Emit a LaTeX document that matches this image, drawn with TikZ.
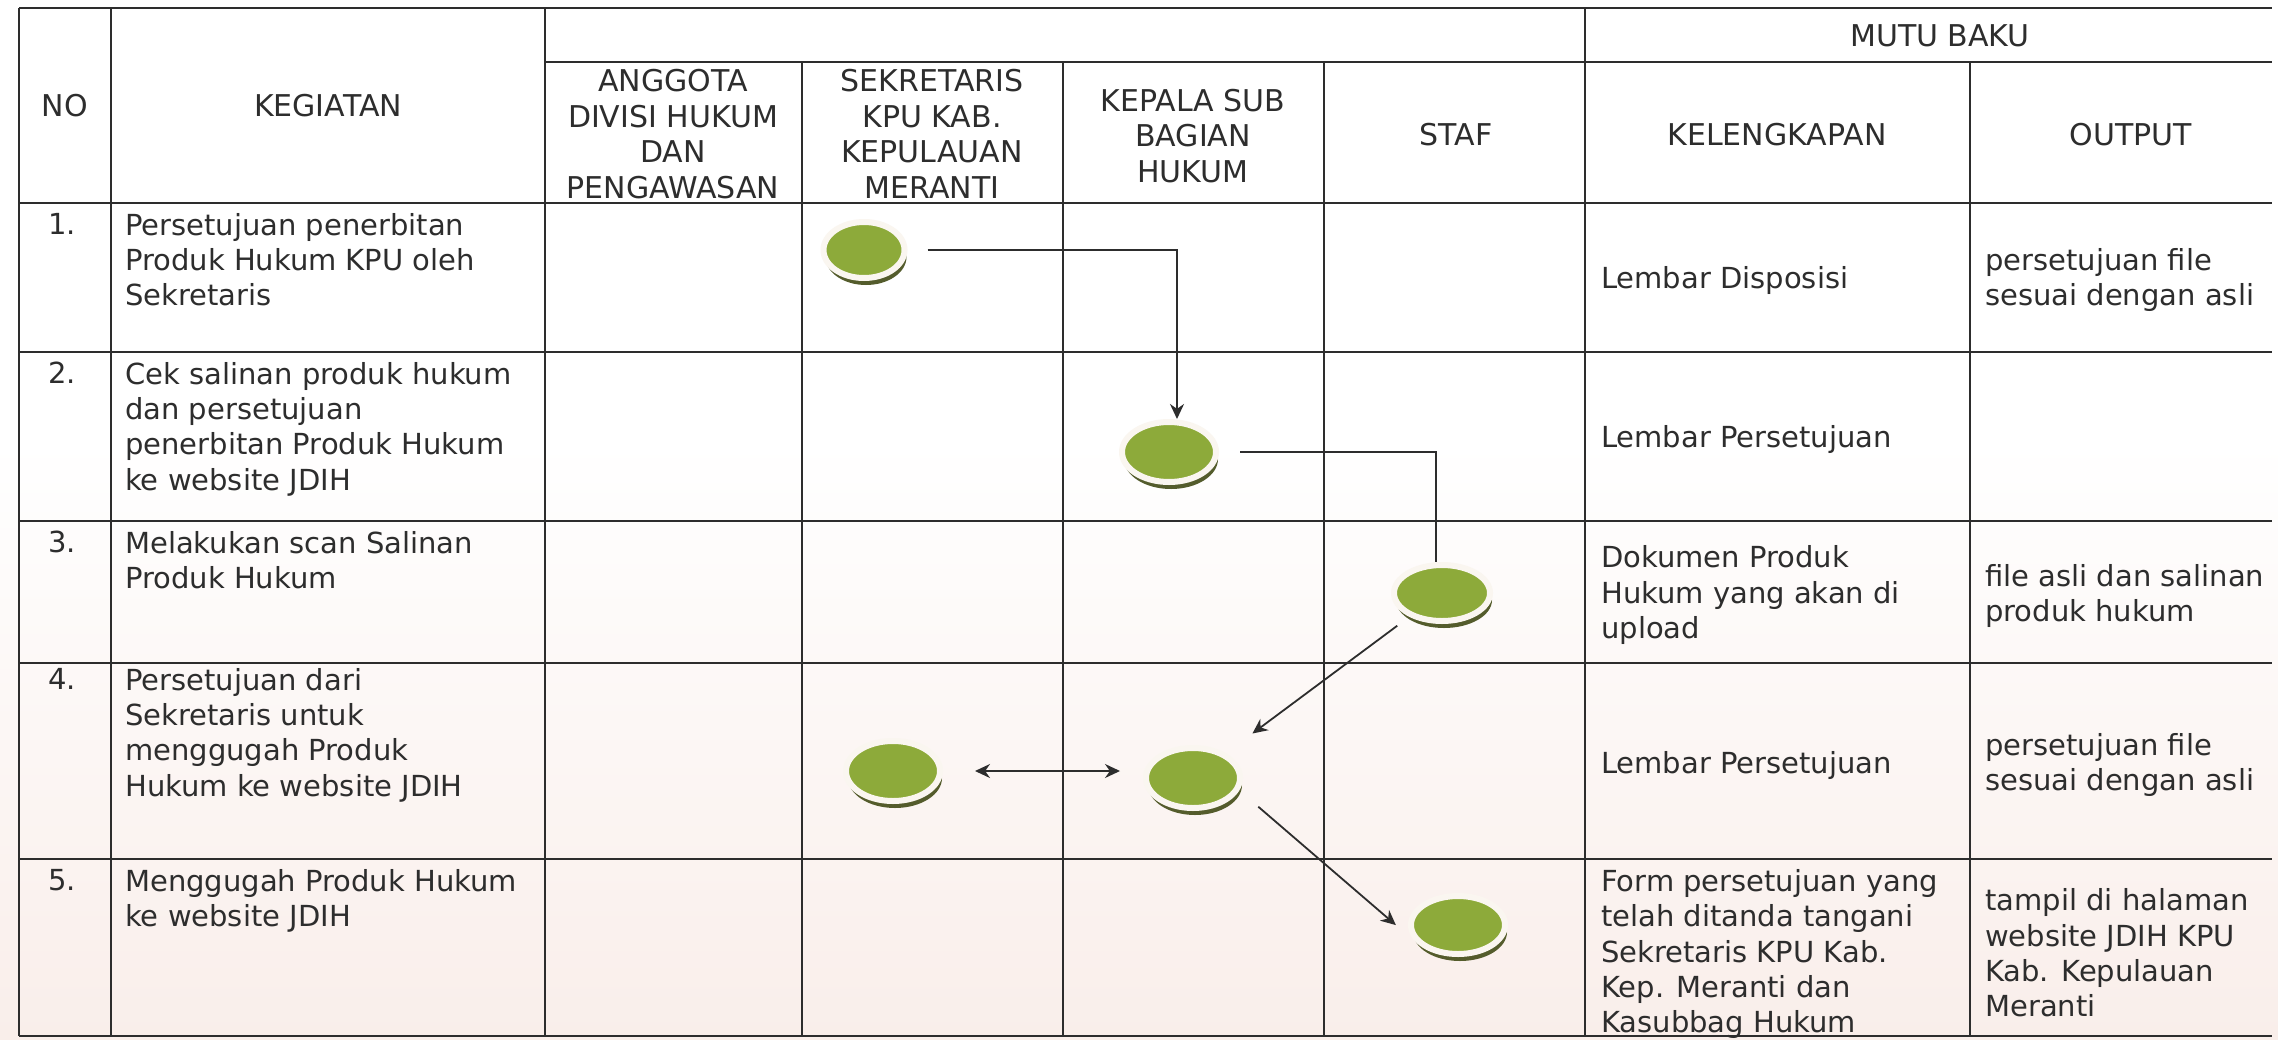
\documentclass[tikz,border=0pt]{standalone}
\usepackage{fontspec}
\setmainfont{DejaVu Sans}
\usetikzlibrary{shapes.geometric,arrows.meta,shadows,positioning}

\definecolor{blobgreen}{RGB}{141,170,58}
\definecolor{blobshade}{RGB}{84,92,44}
\definecolor{blobring}{RGB}{250,246,240}
\definecolor{ink}{RGB}{45,45,45}
\definecolor{paperpink}{RGB}{249,238,234}

\begin{document}
\begin{tikzpicture}
[x=1pt,y=-1pt,>={Stealth[length=15pt,width=14pt]},
 grid/.style = {draw=ink, line width=1.4pt},
 head/.style = {text=ink, align=center, inner sep=0pt, font=\fontsize{30}{35.5}\selectfont},
 body/.style = {text=ink, align=left, inner sep=0pt, font=\fontsize{29}{35.3}\selectfont},
 blob/.style = {ellipse, fill=blobgreen, draw=blobring, line width=6pt, minimum width=94pt, minimum height=60pt, inner sep=0pt,
                drop shadow={shadow xshift=2pt, shadow yshift=-7pt, fill=blobshade, opacity=1}},
 flow/.style = {draw=ink, line width=1.8pt},]
\useasboundingbox (0,0) rectangle (2278,1039);
\fill[white] (0,0) rectangle (2278,440);
\shade[top color=white, bottom color=paperpink] (0,440) rectangle (2278,1039);

% table lines
\draw[grid] (19,8) -- (2272,8);
\draw[grid] (545,62) -- (2272,62);
\draw[grid] (19,203) -- (2272,203);
\draw[grid] (19,352) -- (2272,352);
\draw[grid] (19,521) -- (2272,521);
\draw[grid] (19,663) -- (2272,663);
\draw[grid] (19,859) -- (2272,859);
\draw[grid] (19,1036) -- (2272,1036);
\draw[grid] (19,8) -- (19,1036);
\draw[grid] (111,8) -- (111,1036);
\draw[grid] (545,8) -- (545,1036);
\draw[grid] (802,62) -- (802,1036);
\draw[grid] (1063,62) -- (1063,1036);
\draw[grid] (1324,62) -- (1324,1036);
\draw[grid] (1585,8) -- (1585,1036);
\draw[grid] (1970,62) -- (1970,1036);

% header
\node (no) at (65,106) [head] {NO};
\node (kegiatan) at (328,106) [head] {KEGIATAN};
\node (mutu) at (1940,36) [head] {MUTU BAKU};
\node (anggota) at (673,134) [head] {ANGGOTA\\DIVISI HUKUM\\DAN\\PENGAWASAN};
\node (sekretaris) at (932,134) [head] {SEKRETARIS\\KPU KAB.\\KEPULAUAN\\MERANTI};
\node (kasubbag) at (1193,136) [head] {KEPALA SUB\\BAGIAN\\HUKUM};
\node (staf) at (1456,135) [head] {STAF};
\node (kelengkapan) at (1777,135) [head] {KELENGKAPAN};
\node (output) at (2131,135) [head] {OUTPUT};

% rows
\node (no1) at (62,213) [body,anchor=north] {1.};
\node (keg1) at (125,213) [body,anchor=north west] {Persetujuan penerbitan\\Produk Hukum KPU oleh\\Sekretaris};
\node (kel1) at (1601,280) [body,anchor=west] {Lembar Disposisi};
\node (out1) at (1985,280) [body,anchor=west] {persetujuan file\\sesuai dengan asli};

\node (no2) at (62,362) [body,anchor=north] {2.};
\node (keg2) at (125,362) [body,anchor=north west] {Cek salinan produk hukum\\dan persetujuan\\penerbitan Produk Hukum\\ke website JDIH};
\node (kel2) at (1601,439) [body,anchor=west] {Lembar Persetujuan};

\node (no3) at (62,531) [body,anchor=north] {3.};
\node (keg3) at (125,531) [body,anchor=north west] {Melakukan scan Salinan\\Produk Hukum};
\node (kel3) at (1601,595) [body,anchor=west] {Dokumen Produk\\Hukum yang akan di\\upload};
\node (out3) at (1985,596) [body,anchor=west] {file asli dan salinan\\produk hukum};

\node (no4) at (62,668) [body,anchor=north] {4.};
\node (keg4) at (125,668) [body,anchor=north west] {Persetujuan dari\\Sekretaris untuk\\menggugah Produk\\Hukum ke website JDIH};
\node (kel4) at (1601,765) [body,anchor=west] {Lembar Persetujuan};
\node (out4) at (1985,765) [body,anchor=west] {persetujuan file\\sesuai dengan asli};

\node (no5) at (62,869) [body,anchor=north] {5.};
\node (keg5) at (125,869) [body,anchor=north west] {Menggugah Produk Hukum\\ke website JDIH};
\node (kel5) at (1601,954) [body,anchor=west] {Form persetujuan yang\\telah ditanda tangani\\Sekretaris KPU Kab.\\Kep. Meranti dan\\Kasubbag Hukum};
\node (out5) at (1985,953) [body,anchor=west] {tampil di halaman\\website JDIH KPU\\Kab. Kepulauan\\Meranti};

% steps
\node (s1) at (864,250) [blob, minimum width=81pt, minimum height=56pt] {};
\node (s2) at (1169,452) [blob] {};
\node (s3) at (1442,593) [blob, minimum width=96pt, minimum height=56pt] {};
\node (s4) at (893,771) [blob] {};
\node (s5) at (1193,778) [blob] {};
\node (s6) at (1458,925) [blob, minimum height=58pt] {};

\draw[flow,->,shorten <=20pt] (s1.east) -| ([xshift=8pt]s2.north);
\draw[flow,shorten <=21pt] (s2.east) -| ([xshift=-6pt]s3.north);
\draw[flow,->,shorten <=15pt,shorten >=33pt] (s3.216) -- (s5.37);
\draw[flow,<->,shorten <=32pt,shorten >=23pt] (s4.east) -- (s4.east -| s5.west);
\draw[flow,->,shorten <=25pt,shorten >=27pt] (s5.345) -- (s6.203);

\end{tikzpicture}
\end{document}
